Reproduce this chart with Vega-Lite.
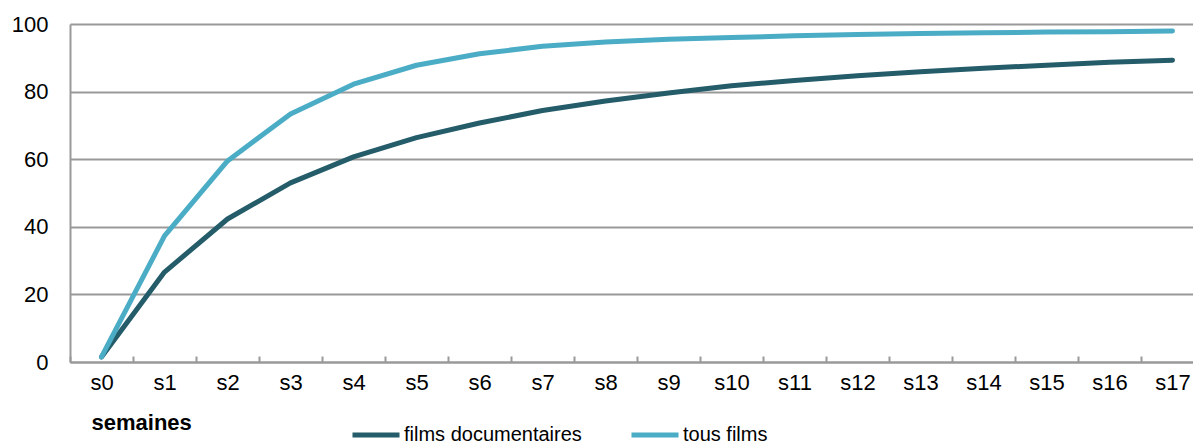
{
  "$schema": "https://vega.github.io/schema/vega-lite/v6.json",
  "width": 1123,
  "height": 338,
  "autosize": {"type": "none"},
  "padding": {"left": 70, "right": 0, "top": 24, "bottom": 84},
  "config": {
    "font": "Liberation Sans",
    "view": {"stroke": null}
  },
  "data": {
    "values": [
      {"semaine": "s0", "serie": "films documentaires", "valeur": 1.5},
      {"semaine": "s1", "serie": "films documentaires", "valeur": 26.6},
      {"semaine": "s2", "serie": "films documentaires", "valeur": 42.3},
      {"semaine": "s3", "serie": "films documentaires", "valeur": 53.0},
      {"semaine": "s4", "serie": "films documentaires", "valeur": 60.7},
      {"semaine": "s5", "serie": "films documentaires", "valeur": 66.4},
      {"semaine": "s6", "serie": "films documentaires", "valeur": 70.7},
      {"semaine": "s7", "serie": "films documentaires", "valeur": 74.4},
      {"semaine": "s8", "serie": "films documentaires", "valeur": 77.2},
      {"semaine": "s9", "serie": "films documentaires", "valeur": 79.6},
      {"semaine": "s10", "serie": "films documentaires", "valeur": 81.7},
      {"semaine": "s11", "serie": "films documentaires", "valeur": 83.3},
      {"semaine": "s12", "serie": "films documentaires", "valeur": 84.7},
      {"semaine": "s13", "serie": "films documentaires", "valeur": 85.9},
      {"semaine": "s14", "serie": "films documentaires", "valeur": 86.9},
      {"semaine": "s15", "serie": "films documentaires", "valeur": 87.8},
      {"semaine": "s16", "serie": "films documentaires", "valeur": 88.7},
      {"semaine": "s17", "serie": "films documentaires", "valeur": 89.3},
      {"semaine": "s0", "serie": "tous films", "valeur": 1.5},
      {"semaine": "s1", "serie": "tous films", "valeur": 37.3},
      {"semaine": "s2", "serie": "tous films", "valeur": 59.5},
      {"semaine": "s3", "serie": "tous films", "valeur": 73.4},
      {"semaine": "s4", "serie": "tous films", "valeur": 82.2},
      {"semaine": "s5", "serie": "tous films", "valeur": 87.8},
      {"semaine": "s6", "serie": "tous films", "valeur": 91.2},
      {"semaine": "s7", "serie": "tous films", "valeur": 93.4},
      {"semaine": "s8", "serie": "tous films", "valeur": 94.7},
      {"semaine": "s9", "serie": "tous films", "valeur": 95.5},
      {"semaine": "s10", "serie": "tous films", "valeur": 96.0},
      {"semaine": "s11", "serie": "tous films", "valeur": 96.5},
      {"semaine": "s12", "serie": "tous films", "valeur": 96.9},
      {"semaine": "s13", "serie": "tous films", "valeur": 97.2},
      {"semaine": "s14", "serie": "tous films", "valeur": 97.4},
      {"semaine": "s15", "serie": "tous films", "valeur": 97.6},
      {"semaine": "s16", "serie": "tous films", "valeur": 97.7},
      {"semaine": "s17", "serie": "tous films", "valeur": 97.9}
    ]
  },
  "mark": {"type": "line", "strokeWidth": 5, "strokeCap": "round", "strokeJoin": "round"},
  "encoding": {
    "x": {
      "field": "semaine",
      "type": "ordinal",
      "sort": null,
      "scale": {"type": "band", "paddingInner": 0, "paddingOuter": 0, "range": [0, 1134]},
      "axis": {
        "title": "semaines",
        "titleFontSize": 22,
        "titleFontWeight": "bold",
        "titleAnchor": "start",
        "titleAlign": "left",
        "titleBaseline": "top",
        "titleX": 21,
        "titleY": 50,
        "titleColor": "#000000",
        "titleFont": "Liberation Sans",
        "labelFont": "Liberation Sans",
        "labelFontSize": 22,
        "labelColor": "#000000",
        "labelAngle": 0,
        "labelPadding": 16,
        "tickBand": "extent",
        "tickSize": -6,
        "tickColor": "#999999",
        "tickWidth": 2,
        "domainColor": "#999999",
        "domainWidth": 2,
        "grid": false
      }
    },
    "y": {
      "field": "valeur",
      "type": "quantitative",
      "scale": {"domain": [0, 100]},
      "axis": {
        "title": null,
        "values": [0, 20, 40, 60, 80, 100],
        "labelFont": "Liberation Sans",
        "labelFontSize": 22,
        "labelColor": "#000000",
        "ticks": false,
        "labelPadding": 22,
        "domain": true,
        "domainColor": "#999999",
        "domainWidth": 2,
        "grid": true,
        "gridColor": "#999999",
        "gridWidth": 2
      }
    },
    "color": {
      "field": "serie",
      "type": "nominal",
      "scale": {"domain": ["films documentaires", "tous films"], "range": ["#245c6a", "#4bacc6"]},
      "legend": {
        "title": null,
        "orient": "none",
        "legendX": 280,
        "legendY": 385,
        "padding": 0,
        "direction": "horizontal",
        "symbolType": "stroke",
        "symbolStrokeWidth": 5,
        "symbolSize": 2209,
        "labelFontSize": 20,
        "labelFont": "Liberation Sans",
        "labelColor": "#000000",
        "labelLimit": 0,
        "columnPadding": 39,
        "labelOffset": 2
      }
    }
  }
}
